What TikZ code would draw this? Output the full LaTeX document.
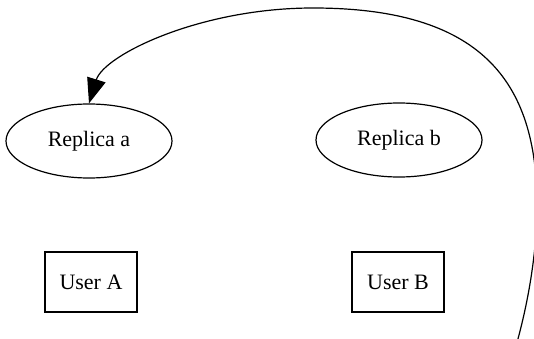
\documentclass[tikz,border=0pt]{standalone}
\usepackage{fontspec}
\setmainfont{Liberation Serif}
\usetikzlibrary{shapes.geometric,arrows.meta}
\tikzset{
  replica/.style={ellipse,draw,line width=1.2pt,minimum width=166pt,minimum height=74pt,inner sep=0pt,font=\fontsize{22}{26}\selectfont},
  userbox/.style={rectangle,draw,line width=1.2pt,minimum width=92pt,minimum height=60pt,inner sep=0pt,font=\fontsize{22}{26}\selectfont},
  link/.style={line width=1.2pt,-{Triangle[length=25pt,width=19pt]}}
}
\begin{document}
\begin{tikzpicture}[x=1pt,y=1pt]
\useasboundingbox (0,0) rectangle (534,-339);
\clip (0,0) rectangle (534,-339);
\node[replica] (ra) at (89,-141) {Replica a};
\node[replica] (rb) at (399,-140) {Replica b};
\node[userbox] (ua) at (91,-282) {User A};
\node[userbox] (ub) at (398,-282) {User B};
\coordinate (s) at (516,-346);
\coordinate (r) at (537,-205);
\coordinate (m) at (313,-8);
\draw[link] (s) .. controls (529,-300) and (537,-250) .. (r)
  .. controls (537,-80) and (480,-8) .. (m)
  .. controls (200,-8) and (104,-55) .. (ra.north);
\end{tikzpicture}
\end{document}
